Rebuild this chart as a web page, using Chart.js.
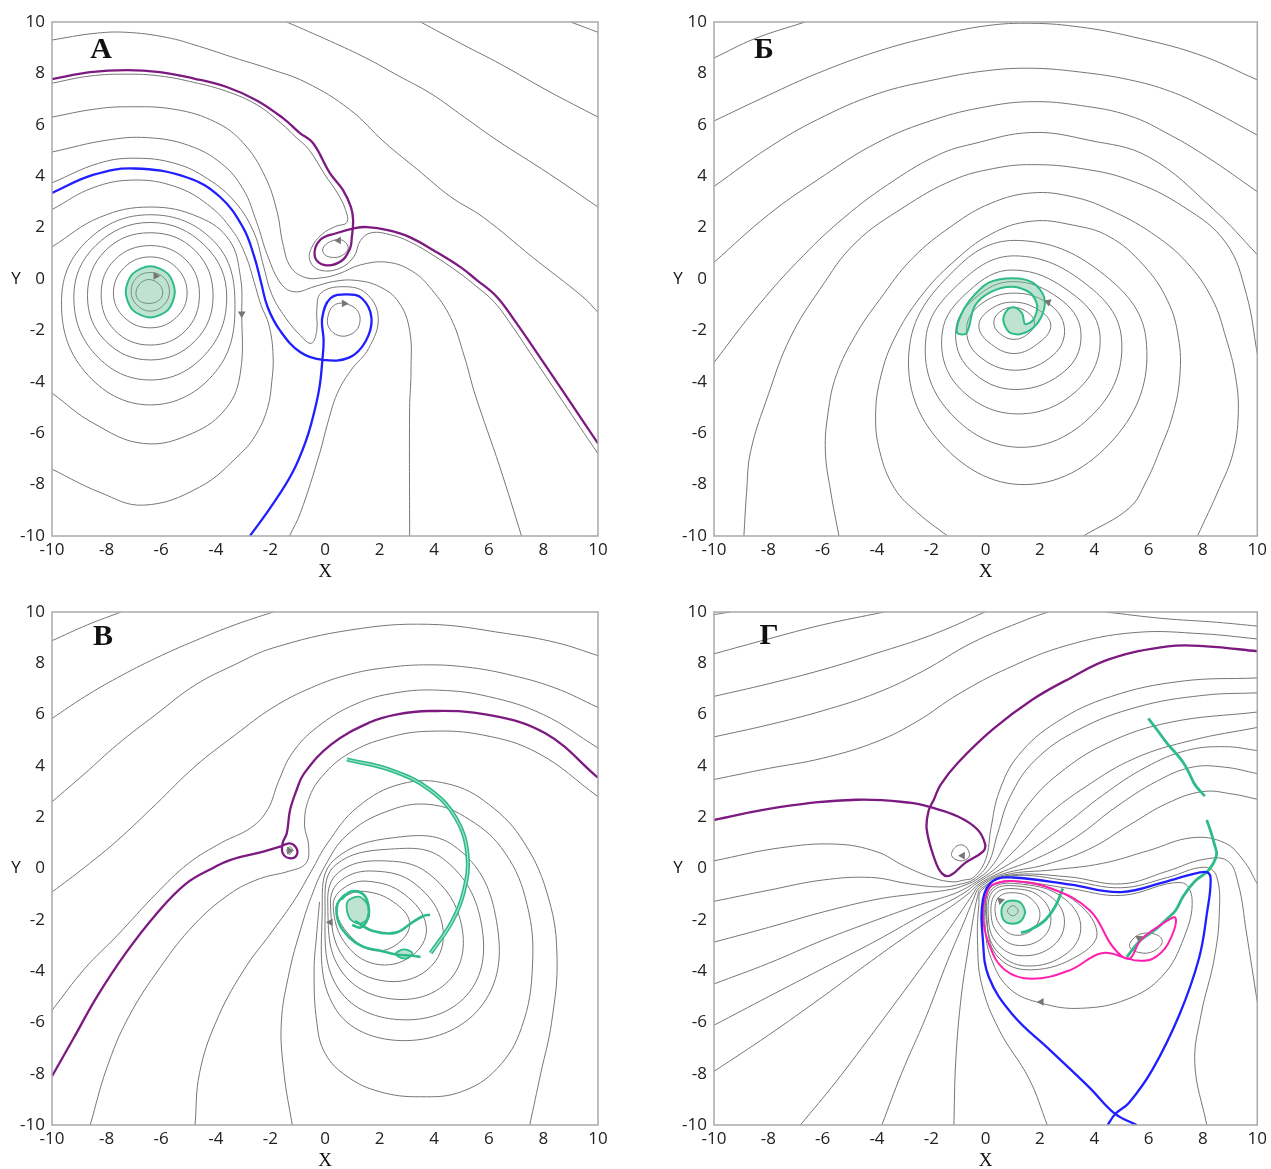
<!DOCTYPE html>
<html>
<head>
<meta charset="utf-8">
<script src="https://cdn.jsdelivr.net/npm/chart.js@4.4.1/dist/chart.umd.min.js"></script>
<style>
  body { margin: 0; background: #fff; width: 1271px; height: 1169px; overflow: hidden; position: relative; }
  .panel { position: absolute; }
</style>
</head>
<body>
<div class="panel" style="left:0;top:0"><canvas id="cA" width="640" height="590"></canvas></div>
<div class="panel" style="left:662px;top:0"><canvas id="cB" width="609" height="590"></canvas></div>
<div class="panel" style="left:0;top:590px"><canvas id="cV" width="640" height="579"></canvas></div>
<div class="panel" style="left:662px;top:590px"><canvas id="cG" width="609" height="579"></canvas></div>
<script>
// ── Axis ticks (same for all panels) ──
const tickValues = [-10, -8, -6, -4, -2, 0, 2, 4, 6, 8, 10];

// ── Panel А ──
const aPurple = [[-10,7.78],[-8.6,8.05],[-7.25,8.13],[-6.05,8.05],[-4.8,7.8],[-3.6,7.47],[-2.5,6.95],[-1.54,6.26],[-0.92,5.68],[-0.44,5.29],[0.18,4.12],[0.66,3.46],[0.95,2.8],[1.03,2.3],[0.98,1.6],[0.92,1.2],[0.6,0.7],[0.0,0.54],[-0.37,0.86],[-0.18,1.52],[0.44,1.79],[1.1,1.98],[1.54,2.02],[2.3,1.9],[3.1,1.63],[4.0,1.1],[4.95,0.47],[5.56,-0.04],[6.29,-0.69],[7.0,-1.7],[7.62,-2.65],[8.8,-4.5],[10,-6.4]];
const aBlue = [[-10,3.35],[-8.5,4.05],[-7.0,4.3],[-5.05,3.95],[-3.85,3.2],[-3.0,2.0],[-2.6,0.9],[-2.35,-0.1],[-2.1,-1.1],[-1.65,-2.0],[-0.9,-2.85],[-0.07,-3.15],[0.9,-3.05],[1.5,-2.4],[1.7,-1.5],[1.35,-0.75],[0.8,-0.6],[0.2,-0.75],[-0.1,-1.5],[-0.05,-2.4],[-0.1,-3.2],[-0.2,-4.2],[-0.4,-5.2],[-0.7,-6.3],[-1.2,-7.55],[-2.0,-8.9],[-2.75,-10]];
const aGreen = [[-5.5,-0.5],[-5.75,0.2],[-6.4,0.5],[-7.05,0.2],[-7.3,-0.5],[-7.05,-1.2],[-6.4,-1.5],[-5.75,-1.2],[-5.5,-0.5]];
const aGreenRings = [
  [[-5.7,-0.5],[-5.9,0.05],[-6.4,0.25],[-6.9,0.05],[-7.1,-0.5],[-6.9,-1.0],[-6.4,-1.25],[-5.9,-1.0],[-5.7,-0.5]],
  [[-5.95,-0.45],[-6.2,-0.1],[-6.6,-0.05],[-6.9,-0.4],[-6.85,-0.8],[-6.45,-0.95],[-6.05,-0.8],[-5.95,-0.45]]
];
const aGray = [
  [[-10,9.3],[-8.5,9.55],[-7.3,9.6],[-5.8,9.4],[-4.6,9.05],[-3.3,8.6],[-2.1,8.2],[-0.7,7.65],[0.9,6.6],[2.2,5.3],[3.4,4.25],[4.6,3.2],[5.8,2.4],[7.6,0.85],[9.45,-0.7],[10,-1.3]],
  [[-1.4,10],[0.2,9.25],[1.5,8.6],[2.7,7.9],[3.9,7.2],[5.1,6.3],[6.3,5.4],[8.2,4.1],[10,2.8]],
  [[3.5,10],[5.0,9.15],[6.45,8.35],[8.2,7.3],[10,6.3]],
  [[9.0,10],[10,9.6]],
  [[-10,7.62],[-8.6,7.9],[-7.25,7.97],[-6.05,7.9],[-4.8,7.65],[-3.6,7.3],[-2.5,6.78],[-1.6,6.05],[-1.05,5.5],[-0.6,5.05],[0.0,4.05],[0.45,3.35],[0.75,2.7],[0.8,2.2],[0.4,2.05],[-0.1,1.75],[-0.5,1.2],[-0.55,0.7],[-0.2,0.35],[0.5,0.4],[1.05,0.85],[1.3,1.5],[1.7,1.8],[2.4,1.72],[3.1,1.45],[4.0,0.9],[4.9,0.25],[5.5,-0.25],[6.2,-0.9],[6.9,-1.9],[7.5,-2.85],[8.7,-4.75],[10,-6.8]],
  [[-10,2.7],[-8.5,3.55],[-7,3.85],[-5.5,3.6],[-4.3,2.9],[-3.4,1.9],[-2.9,0.9],[-2.6,-0.1],[-2.35,-1.0],[-2.05,-1.8],[-1.9,-3.0],[-1.95,-4.0],[-2.1,-5.0],[-2.5,-6.0],[-3.1,-6.8],[-4.6,-8.1],[-6.65,-8.8],[-8.25,-8.3],[-10,-7.4]],
  [[-10,1.25],[-8.25,2.4],[-6.4,2.8],[-4.6,2.4],[-3.5,1.5],[-3.1,0.1],[-3.05,-1.3],[-3.1,-3.65],[-3.6,-5.0],[-4.85,-6.0],[-6.65,-6.4],[-8.5,-5.6],[-10,-4.44]],
  [[-10,6.3],[-8.5,6.6],[-7.3,6.7],[-5.5,6.6],[-4,6.1],[-3,5.3],[-2.2,4.0],[-1.75,2.6],[-1.55,1.4],[-1.25,0.45],[-0.7,0.05],[-0.1,0.05],[0.5,0.2],[1.3,0.55],[2.3,0.65],[3.2,0.3],[3.9,-0.4],[4.6,-1.5],[5.1,-3.0],[5.5,-4.5],[6.4,-7.3],[7.2,-10]],
  [[-10,4.94],[-8,5.4],[-6.5,5.5],[-5,5.2],[-3.8,4.5],[-3.0,3.5],[-2.5,2.2],[-2.1,0.9],[-1.6,-0.2],[-1.1,-0.5],[-0.4,-0.3],[0.3,-0.1],[1.1,-0.05],[2.0,-0.3],[2.7,-0.9],[3.1,-2.0],[3.15,-3.6],[3.1,-5],[3.1,-10]],
  [[-10,3.74],[-8.3,4.5],[-7,4.7],[-5.5,4.5],[-4.3,3.9],[-3.3,3.0],[-2.6,1.8],[-2.25,0.5],[-1.95,-0.6],[-1.45,-1.5],[-0.9,-2.2],[-0.5,-2.5],[-0.3,-2.0],[-0.3,-1.2],[-0.15,-0.55],[0.65,-0.3],[1.5,-0.55],[1.95,-1.5],[1.6,-2.7],[0.95,-3.55],[0.45,-4.45],[0.1,-5.6],[-0.2,-6.8],[-0.9,-9.1],[-1.3,-10]],
  [[-5.05,-0.55],[-5.45,0.45],[-6.4,0.86],[-7.35,0.45],[-7.75,-0.55],[-7.35,-1.5],[-6.4,-1.9],[-5.45,-1.5],[-5.05,-0.55]],
  [[-4.6,-0.6],[-5.1,0.75],[-6.4,1.3],[-7.7,0.75],[-8.2,-0.6],[-7.7,-2.0],[-6.4,-2.57],[-5.1,-2.0],[-4.6,-0.6]],
  [[-4.1,-0.65],[-4.75,1.1],[-6.4,1.8],[-8.05,1.1],[-8.7,-0.65],[-8.05,-2.4],[-6.4,-3.15],[-4.75,-2.4],[-4.1,-0.65]],
  [[-3.6,-0.7],[-4.4,1.3],[-6.4,2.2],[-8.4,1.3],[-9.2,-0.7],[-8.4,-2.95],[-6.4,-3.93],[-4.4,-2.95],[-3.6,-0.7]],
  [[-3.3,-0.8],[-4.1,1.5],[-6.4,2.5],[-8.7,1.5],[-9.65,-0.8],[-8.8,-3.6],[-6.4,-4.9],[-4.0,-3.6],[-3.3,-0.8]],
  [[-0.05,1.25],[0.3,1.5],[0.65,1.5],[0.85,1.2],[0.6,0.9],[0.2,0.85],[-0.05,1.0],[-0.05,1.25]],
  [[0.1,-1.5],[0.3,-1.05],[0.7,-0.95],[1.2,-1.25],[1.25,-1.8],[0.95,-2.15],[0.5,-2.2],[0.15,-1.9],[0.1,-1.5]]
];
const aArrows = [[-6.2,0.12],[-3.05,-1.35],[0.5,1.5],[0.7,-0.95]];
const aArrowAngles = [90, 180, 270, 90];

// ── Panel Б ──
const bGreen = [[-1.05,-2.1],[-0.95,-1.5],[-0.6,-0.85],[0.1,-0.15],[1.0,0.03],[1.75,-0.15],[2.15,-0.7],[2.1,-1.35],[1.75,-1.9],[1.25,-2.15],[0.85,-2.05],[0.65,-1.6],[0.8,-1.2],[1.05,-1.1],[1.35,-1.35],[1.45,-1.75],[1.75,-1.6],[1.9,-1.05],[1.65,-0.55],[1.0,-0.3],[0.2,-0.5],[-0.4,-1.05],[-0.7,-2.1],[-1.05,-2.1]];
const bGray = [
  [[-10,8.6],[-8.5,9.35],[-6.65,10]],
  [[-10,6.15],[-8,7.15],[-6.2,8.0],[-4,8.85],[-1.9,9.45],[0,9.85],[1.7,9.95],[3.5,9.8],[5.3,9.45],[7.8,8.75],[10,7.75]],
  [[-10,3.6],[-8,5.1],[-6.2,6.2],[-4,7.2],[-1.9,7.75],[0,8.1],[1.7,8.2],[3.5,8.05],[5.3,7.75],[6.8,7.3],[8.15,6.65],[10,5.6]],
  [[-10,0.65],[-8,2.5],[-6.2,3.85],[-4,5.3],[-1.9,6.2],[0,6.7],[1.7,6.9],[3.5,6.75],[5.3,6.35],[6.8,5.6],[8.15,4.75],[10,3.4]],
  [[-10,-3.25],[-8.5,-1.2],[-6.95,0.65],[-5.2,2.4],[-3.35,3.85],[-1.7,4.85],[-0.5,5.25],[1.7,5.7],[3.8,5.4],[6.0,4.75],[8.4,2.7],[10,0.95]],
  [[-8.9,-10],[-8.8,-8.3],[-8.65,-6.7],[-8.0,-4.5],[-7.2,-2.3],[-6.1,-0.4],[-4.8,1.4],[-3.0,2.8],[-1.2,3.85],[0.3,4.3],[1.7,4.45],[3.5,4.3],[5.3,3.85],[7.3,2.8],[8.85,1.4],[9.6,-0.6],[10,-2.9]],
  [[-5.4,-10],[-5.7,-8.3],[-5.9,-6.7],[-5.8,-5.2],[-5.5,-3.75],[-4.8,-2.2],[-3.9,-0.8],[-2.7,0.8],[-1.2,2.1],[0.2,2.95],[1.7,3.35],[3.2,3.2],[4.55,2.7],[6.1,1.8],[7.4,0.65],[8.35,-0.8],[8.85,-2.3],[9.2,-3.8],[9.3,-5.25],[9.1,-6.8],[8.6,-8.15],[7.8,-10]],
  [[-1.4,-10],[-2.5,-9.1],[-3.35,-8.15],[-3.9,-6.7],[-4.05,-5.25],[-3.85,-3.75],[-3.35,-2.3],[-2.4,-0.7],[-1.2,0.65],[0.2,1.75],[1.7,2.25],[3.2,2.1],[4.55,1.65],[5.8,0.55],[6.7,-0.85],[7.1,-2.3],[7.15,-3.75],[6.9,-5.25],[6.4,-6.7],[5.9,-7.9],[5.3,-8.9],[3.6,-10]],
  [[1.2,1.5],[4.2,0.3],[5.9,-2.3],[4.9,-6.0],[1.5,-8.0],[-1.8,-6.2],[-2.8,-2.6],[-1.0,0.5],[1.2,1.5]],
  [[1.1,0.9],[3.7,-0.2],[5.0,-2.3],[4.1,-5.1],[1.3,-6.55],[-1.4,-5.1],[-2.2,-2.3],[-0.9,-0.1],[1.1,0.9]],
  [[1.0,0.35],[3.1,-0.5],[4.2,-2.1],[3.5,-4.2],[1.2,-5.25],[-1.0,-4.2],[-1.6,-2.1],[-0.6,-0.45],[1.0,0.35]],
  [[1.0,-0.1],[2.7,-0.75],[3.5,-2.0],[3.0,-3.5],[1.1,-4.3],[-0.6,-3.5],[-1.1,-2.0],[-0.4,-0.75],[1.0,-0.1]],
  [[1.0,-0.55],[2.3,-0.95],[2.9,-1.9],[2.5,-2.95],[1.1,-3.55],[-0.3,-2.95],[-0.7,-1.9],[-0.2,-1.0],[1.0,-0.55]],
  [[1.0,-0.9],[1.95,-1.2],[2.4,-1.8],[2.0,-2.45],[1.05,-2.9],[0.1,-2.45],[-0.25,-1.8],[0.15,-1.2],[1.0,-0.9]],
  [[1.0,-1.1],[1.55,-1.3],[1.8,-1.7],[1.6,-2.1],[1.05,-2.35],[0.5,-2.1],[0.3,-1.7],[0.5,-1.3],[1.0,-1.1]]
];
const bArrows = [[2.3,-0.9]];
const bArrowAngles = [170];

// ── Panel В ──
const vPurple = [[-10,-8.1],[-9.2,-6.6],[-8.33,-4.96],[-7.3,-3.3],[-6.2,-1.8],[-5.1,-0.6],[-4.05,0.05],[-3.48,0.33],[-2.26,0.66],[-1.65,0.85],[-1.3,0.98],[-1.05,0.8],[-1.05,0.5],[-1.3,0.4],[-1.55,0.6],[-1.55,1.0],[-1.4,1.37],[-1.28,2.28],[-1.04,3.06],[-0.77,3.7],[0.23,4.84],[1.65,5.7],[2.6,6.0],[3.8,6.14],[5.93,6.0],[8.07,5.27],[10,3.54]];
const vGreenArc = [[0.8,4.25],[2.37,3.85],[3.8,3.1],[4.8,1.96],[5.22,0.52],[5.08,-0.92],[4.65,-2.08],[3.87,-3.3]];
const vGreenLines = [
  [[0.75,-1.0],[0.45,-1.4],[0.5,-2.1],[0.9,-2.7],[1.4,-3.05],[2.0,-3.2],[2.6,-3.35],[3.2,-3.4],[3.5,-3.45]],
  [[1.1,-2.05],[1.8,-2.45],[2.6,-2.5],[3.2,-2.1],[3.6,-1.85],[3.85,-1.8]],
  [[0.6,-1.2],[0.95,-0.9],[1.4,-1.0],[1.6,-1.5],[1.55,-2.0],[1.3,-2.3],[1.0,-2.2]]
];
const vGreenBlobs = [
  [[0.85,-1.25],[1.25,-1.1],[1.55,-1.4],[1.6,-1.9],[1.3,-2.15],[0.95,-2.0],[0.8,-1.6],[0.85,-1.25]],
  [[2.6,-3.3],[2.9,-3.15],[3.2,-3.3],[3.0,-3.5],[2.7,-3.45],[2.6,-3.3]]
];
const vGray = [
  [[-10,8.88],[-8.7,9.5],[-7.47,10]],
  [[-10,5.85],[-8.8,6.7],[-7.6,7.44],[-6.2,8.2],[-4.76,8.88],[-3.3,9.5],[-1.9,10]],
  [[-10,2.6],[-8.8,3.7],[-7.6,4.84],[-6.2,6.0],[-4.76,7.15],[-3.3,7.95],[-1.9,8.6],[0.94,9.3],[3.8,9.52],[6.65,9.16],[8.5,8.8],[10,8.3]],
  [[-10,-0.92],[-8.8,0.05],[-7.6,1.1],[-6.2,2.5],[-4.76,3.98],[-3.3,5.2],[-1.9,6.28],[-0.5,7.05],[0.94,7.58],[2.4,7.85],[3.8,7.94],[5.2,7.85],[6.65,7.58],[8.4,7.05],[10,6.28]],
  [[-10,-5.53],[-8.8,-3.9],[-7.6,-2.6],[-6.2,-1.0],[-5.0,0.2],[-3.8,1.0],[-2.7,1.6],[-2.1,2.3],[-1.7,3.4],[-1.2,4.5],[-0.3,5.5],[1.1,6.4],[2.6,6.85],[4.2,6.95],[6.0,6.7],[8.0,6.0],[10,4.7]],
  [[-8.6,-10],[-8.0,-7.8],[-7.2,-5.8],[-6.0,-3.8],[-4.8,-2.2],[-3.5,-1.0],[-2.4,-0.4],[-1.3,-0.1],[-0.7,0.2],[-0.6,0.9],[-0.75,1.7],[-0.6,2.7],[-0.1,3.6],[0.9,4.5],[2.3,5.1],[3.8,5.35],[5.8,5.2],[7.8,4.5],[10,2.8]],
  [[-4.76,-10],[-4.6,-8],[-4.0,-6],[-3.0,-4.0],[-1.9,-2.4],[-1.1,-1.2],[-0.5,-0.1],[0.1,1.0],[1.2,2.4],[2.8,3.3],[4.5,3.3],[6.0,2.5],[7.3,1.0],[8.2,-1.2],[8.5,-3.5],[8.3,-6.0],[7.9,-8.0],[7.5,-10]],
  [[-1.2,-10],[-1.5,-8],[-1.6,-6],[-1.3,-4],[-0.9,-2.4],[-0.5,-1.1],[0.0,0.1],[0.8,1.3],[2.2,2.2],[3.8,2.5],[5.3,1.9],[6.6,0.6],[7.4,-1.4],[7.6,-3.8],[7.2,-6.2],[6.3,-7.8],[5.0,-8.7],[3.5,-8.9],[2.0,-8.7],[0.8,-8.1],[0.0,-7.2],[-0.3,-6.0],[-0.4,-4.0],[-0.3,-2.5],[-0.2,-1.3]],
  [[0.4,-1.55],[0.8,-1.05],[1.5,-0.9],[2.5,-1.3],[3.1,-2.1],[2.7,-2.9],[1.8,-3.2],[0.9,-2.6],[0.4,-1.55]],
  [[0.3,-1.45],[0.7,-0.75],[1.6,-0.5],[2.9,-1.0],[3.7,-2.2],[3.3,-3.3],[2.0,-3.75],[0.8,-3.0],[0.3,-1.45]],
  [[0.2,-1.35],[0.6,-0.45],[1.8,-0.1],[3.3,-0.6],[4.3,-2.2],[3.9,-3.8],[2.3,-4.4],[0.7,-3.5],[0.2,-1.35]],
  [[0.1,-1.3],[0.5,-0.15],[2.0,0.3],[3.8,-0.2],[5.0,-2.2],[4.6,-4.3],[2.6,-5.1],[0.6,-4.0],[0.1,-1.3]],
  [[0.0,-1.25],[0.4,0.15],[2.3,0.75],[4.3,0.4],[5.7,-2.0],[5.3,-4.8],[2.9,-5.9],[0.5,-4.7],[0.0,-1.25]],
  [[-0.1,-1.2],[0.35,0.35],[2.5,1.2],[4.7,0.9],[6.2,-1.6],[5.9,-5.1],[3.2,-6.7],[0.4,-5.5],[-0.1,-1.2]],
  [[-1.2,0.75],[-1.3,0.85],[-1.4,0.7],[-1.3,0.55],[-1.2,0.75]]
];
const vArrows = [[0.2,-2.1],[-1.3,0.7]];
const vArrowAngles = [30, 90];

// ── Panel Г ──
const gPurple = [[-10,1.89],[-7.6,2.39],[-4.75,2.68],[-2.74,2.56],[-2.03,2.39],[-1.02,2.03],[-0.31,1.53],[-0.02,0.95],[-0.1,0.66],[-0.74,0.23],[-1.31,-0.27],[-1.6,-0.2],[-1.88,0.37],[-2.17,1.53],[-2.1,2.25],[-1.9,2.7],[-1.66,3.26],[-1.02,4.12],[0.26,5.42],[1.7,6.57],[3.13,7.43],[4.56,8.16],[6.71,8.66],[8.14,8.66],[10,8.47]];
const gBlue = [[4.49,-10],[4.77,-9.57],[5.28,-9.13],[6.14,-7.84],[7.14,-5.68],[7.85,-3.52],[8.14,-1.79],[8.28,-0.35],[8.07,-0.13],[6.71,-0.49],[4.99,-0.92],[3.13,-0.63],[0.98,-0.35],[0.26,-0.49],[-0.1,-1.21],[-0.1,-2.8],[0.12,-4.24],[0.98,-5.68],[2.41,-7.12],[3.84,-8.56],[4.77,-9.57],[5.56,-10]];
const gMagenta = [[0.26,-0.63],[0.98,-0.49],[2.41,-0.78],[3.84,-1.64],[4.7,-3.08],[5.28,-3.52],[5.7,-2.8],[6.42,-2.22],[6.99,-1.93],[6.71,-2.94],[6.14,-3.52],[5.56,-3.59],[5.28,-3.52],[4.27,-3.3],[3.13,-3.95],[1.7,-4.3],[0.7,-3.95],[0.12,-2.94],[-0.1,-1.79],[0.05,-0.92],[0.26,-0.63]];
const gGreenLines = [
  [[5.99,5.85],[6.35,5.35],[6.71,4.84],[7.0,4.5],[7.28,4.12],[7.5,3.7],[7.71,3.26],[8.07,2.82]],
  [[8.14,1.89],[8.3,1.4],[8.42,0.95],[8.5,0.52],[8.21,-0.06],[7.71,-0.49],[7.28,-1.07],[6.99,-1.64],[6.71,-1.93],[6.28,-2.36],[5.7,-2.8],[5.2,-3.45]],
  [[2.84,-0.78],[2.55,-1.5],[2.13,-2.07],[1.55,-2.43],[1.3,-2.5]]
];
const gGreenBlob = [[1.45,-1.7],[1.3,-1.35],[1.0,-1.25],[0.7,-1.35],[0.58,-1.7],[0.7,-2.05],[1.0,-2.15],[1.3,-2.05],[1.45,-1.7]];
const gGreenRing = [[1.2,-1.65],[1.0,-1.45],[0.8,-1.65],[1.0,-1.85],[1.2,-1.65]];
const gGray = [
  [[-10,9.9],[-9.4,10]],
  [[-10,8.37],[-8,8.95],[-6,9.5],[-3.74,10]],
  [[-10,6.71],[-8,7.2],[-6,7.75],[-4,8.4],[-2,9.1],[-0.02,10]],
  [[-10,5.13],[-8,5.6],[-6,6.15],[-4,6.85],[-2.3,7.7],[-0.5,8.8],[1.5,9.7],[2.3,10]],
  [[4.42,10],[6.5,9.75],[8.5,9.6],[10,9.45]],
  [[-10,3.47],[-8,3.9],[-6,4.3],[-4,4.95],[-2.5,5.75],[-1,6.8],[0.8,7.8],[3,8.7],[5.5,9.2],[8,9.15],[10,8.95]],
  [[-10,0.3],[-7.6,0.8],[-5.5,0.95],[-4,0.65],[-3.0,0.1],[-1.9,-0.38],[-1.2,-0.52],[-0.8,-0.45],[-0.45,-0.35],[0.0,0.35],[0.2,1.6],[0.5,3.0],[1.2,4.4],[2.6,5.7],[4.6,6.7],[7.2,7.3],[10,7.43]],
  [[-10,-1.28],[-8,-0.85],[-6,-0.45],[-4.2,-0.35],[-2.8,-0.6],[-1.6,-0.72],[-0.9,-0.6],[-0.42,-0.41],[0.1,0.2],[0.45,1.4],[0.9,2.8],[1.8,4.2],[3.4,5.4],[5.6,6.3],[8,6.75],[10,6.85]],
  [[-10,-2.87],[-8,-2.3],[-6,-1.7],[-4,-1.2],[-2.5,-0.98],[-1.3,-0.82],[-0.8,-0.66],[-0.38,-0.46],[0.2,0.05],[0.8,1.1],[1.5,2.4],[2.7,3.7],[4.5,4.9],[6.8,5.7],[10,6.1]],
  [[-10,-4.5],[-8,-3.7],[-6,-2.8],[-4,-2.0],[-2.4,-1.4],[-1.2,-1.0],[-0.7,-0.75],[-0.35,-0.52],[0.3,-0.05],[1.15,0.8],[2.2,2.0],[3.7,3.2],[5.5,4.3],[7.6,5.0],[10,5.5]],
  [[-10,-6.11],[-8,-5.0],[-6,-3.9],[-4,-2.8],[-2.4,-1.85],[-1.2,-1.2],[-0.65,-0.85],[-0.32,-0.57],[0.4,-0.12],[1.5,0.6],[2.8,1.6],[4.3,2.85],[5.9,3.95],[7.4,4.6],[8.8,4.75],[10,4.6]],
  [[-10,-7.91],[-8,-6.5],[-6,-5.0],[-4.2,-3.6],[-2.6,-2.4],[-1.3,-1.5],[-0.6,-0.95],[-0.28,-0.63],[0.5,-0.18],[1.9,0.4],[3.3,1.2],[4.8,2.4],[6.3,3.4],[7.6,3.95],[8.8,3.95],[10,3.7]],
  [[-6.82,-10],[-5.5,-8.3],[-4,-6.2],[-2.6,-4.2],[-1.5,-2.6],[-0.85,-1.6],[-0.5,-1.05],[-0.25,-0.68],[0.6,-0.22],[2.2,0.15],[3.8,0.75],[5.3,1.7],[6.7,2.55],[8.0,3.0],[9.1,2.9],[10,2.7]],
  [[-3.82,-10],[-3.1,-8],[-2.2,-5.8],[-1.4,-3.6],[-0.8,-2.1],[-0.45,-1.2],[-0.22,-0.74],[0.7,-0.25],[2.5,-0.05],[4.3,0.2],[6.0,0.7],[7.6,1.2],[8.8,1.0],[9.5,0.3],[10,-0.6]],
  [[-1.17,-10],[-1.1,-7.5],[-0.9,-5.0],[-0.65,-3.2],[-0.45,-1.9],[-0.3,-1.1],[-0.18,-0.79],[0.8,-0.27],[3.0,-0.32],[5.0,-0.6],[6.7,-0.1],[8.0,0.35],[8.9,0.3],[9.3,-0.6],[9.6,-2.5],[10,-5.2]],
  [[2.27,-10],[1.6,-8.2],[0.5,-6.3],[-0.15,-4.5],[-0.3,-2.8],[-0.25,-1.4],[-0.15,-0.85],[0.9,-0.29],[3.1,-0.48],[5.0,-0.75],[6.7,-0.35],[8.05,0.05],[8.5,-0.3],[8.6,-1.8],[8.4,-3.6],[7.95,-5.6],[7.7,-7.6],[8.14,-10]],
  [[0.5,-1.1],[1.1,-0.95],[1.7,-1.2],[2.0,-1.8],[1.7,-2.4],[1.1,-2.6],[0.6,-2.3],[0.35,-1.7],[0.5,-1.1]],
  [[0.4,-0.95],[1.2,-0.8],[2.0,-1.1],[2.4,-1.9],[2.1,-2.7],[1.2,-3.0],[0.5,-2.6],[0.2,-1.8],[0.4,-0.95]],
  [[0.3,-0.85],[1.3,-0.7],[2.4,-1.1],[2.9,-2.0],[2.5,-3.0],[1.3,-3.4],[0.4,-2.9],[0.1,-1.9],[0.3,-0.85]],
  [[0.25,-0.78],[1.4,-0.62],[2.8,-1.1],[3.5,-2.2],[3.0,-3.3],[1.5,-3.8],[0.4,-3.2],[0.05,-2.0],[0.25,-0.78]],
  [[0.2,-0.72],[1.6,-0.58],[3.2,-1.2],[4.1,-2.5],[3.4,-3.4],[1.7,-3.95],[0.5,-3.5],[0.05,-2.2],[0.2,-0.72]],
  [[0.05,-1.0],[-0.02,-2.2],[0.2,-3.5],[0.9,-4.7],[2.05,-5.25],[3.5,-5.45],[5.2,-5.1],[6.5,-4.2],[7.3,-2.7],[7.6,-1.2],[7.2,-0.55],[5.0,-1.05],[3.1,-0.78],[1.0,-0.48],[0.35,-0.6],[0.05,-1.0]],
  [[6.5,-2.8],[6.2,-2.55],[5.6,-2.6],[5.3,-3.05],[5.8,-3.3],[6.3,-3.15],[6.5,-2.8]],
  [[-0.6,0.6],[-0.8,0.9],[-1.1,0.85],[-1.25,0.5],[-0.95,0.3],[-0.65,0.4],[-0.6,0.6]]
];
const gArrows = [[-0.85,0.5],[0.55,-1.25],[5.65,-2.72],[2.05,-5.2]];
const gArrowAngles = [30, 315, 300, 270];

// ── Styles ──
const GRAY = '#767676';
const PURPLE = '#7d1a80';
const BLUE = '#1f1fff';
const MAGENTA = '#ff1fae';
const GREEN = '#2dbb87';
const GREEN_LIGHT = '#a6e3c8';
const GREEN_FILL = 'rgba(110,196,152,0.45)';
const TICK_FONT = { family: "'Open Sans', sans-serif", size: 17 };

// a line whose last point repeats the first one is drawn as a smooth closed loop
function isClosed(arr) {
  const a = arr[0], b = arr[arr.length - 1];
  return arr.length > 3 && a[0] === b[0] && a[1] === b[1];
}

function pts(arr) {
  const src = isClosed(arr) ? arr.slice(0, -1) : arr;
  return src.map(p => ({ x: p[0], y: p[1] }));
}

function lineDs(arr, color, width, order) {
  return { data: pts(arr), closedLoop: isClosed(arr), showLine: true, pointRadius: 0, pointHoverRadius: 0,
    borderColor: color, borderWidth: width, tension: 0.4, fill: false, order };
}

function fillDs(arr, border, width) {
  return { data: pts(arr), closedLoop: isClosed(arr), showLine: true, pointRadius: 0, pointHoverRadius: 0,
    borderColor: border, borderWidth: width, backgroundColor: GREEN_FILL,
    tension: 0.3, fill: 'shape', order: 3 };
}

function arrowDs(arr, angles) {
  return { data: pts(arr), showLine: false, pointStyle: 'triangle', pointRadius: 4.5,
    rotation: c => angles[c.dataIndex] || 0, backgroundColor: GRAY, borderColor: GRAY,
    borderWidth: 0, order: 0 };
}

// frame, panel letter and axis names
const framePlugin = {
  id: 'frame',
  afterDraw(chart, args, o) {
    const { ctx, chartArea: a } = chart;
    ctx.save();
    ctx.strokeStyle = '#a9a9a9';
    ctx.lineWidth = 1.5;
    ctx.strokeRect(a.left, a.top, a.right - a.left, a.bottom - a.top);
    ctx.fillStyle = '#111';
    ctx.textAlign = 'center';
    ctx.textBaseline = 'middle';
    ctx.font = 'bold 30px "Liberation Serif", serif';
    ctx.fillText(o.letter, a.left + o.lx, a.top + o.ly);
    ctx.font = '19px "Liberation Serif", serif';
    ctx.fillText('X', (a.left + a.right) / 2, a.bottom + 36);
    ctx.font = "17px 'Open Sans', sans-serif";
    ctx.fillText('Y', a.left - 36, chart.scales.y.getPixelForValue(0));
    ctx.restore();
  }
};

function makePanel(id, datasets, g) {
  const axis = (fit) => ({
    type: 'linear', min: -10, max: 10,
    afterBuildTicks: s => { s.ticks = tickValues.map(v => ({ value: v })); },
    ticks: { font: TICK_FONT, color: '#222', padding: fit.pad, autoSkip: false, maxRotation: 0 },
    grid: { display: false, drawTicks: false },
    border: { display: false },
    afterFit: fit.fn,
  });
  const chart = new Chart(document.getElementById(id), {
    type: 'scatter',
    data: { datasets },
    options: {
      responsive: false, animation: false, events: [],
      layout: { padding: { left: 0, top: g.top, right: g.right, bottom: 0 } },
      plugins: { legend: { display: false }, tooltip: { enabled: false }, frame: g.frame },
      scales: {
        x: axis({ pad: 4, fn: s => { s.height = g.xh; } }),
        y: axis({ pad: 7, fn: s => { s.width = 52; } }),
      },
    },
    plugins: [framePlugin],
  });
  // close the loops the same way the radar chart does
  chart.data.datasets.forEach((d, i) => {
    if (d.closedLoop) {
      const line = chart.getDatasetMeta(i).dataset;
      line._loop = true;
      line._fullLoop = true;
    }
  });
  chart.update('none');
  return chart;
}

// ── Build datasets ──
const dsA = [
  ...aGray.map(l => lineDs(l, GRAY, 1, 5)),
  fillDs(aGreen, GREEN, 2),
  ...aGreenRings.map(l => lineDs(l, '#6f8f80', 1, 2)),
  lineDs(aPurple, PURPLE, 2.3, 1),
  lineDs(aBlue, BLUE, 2.3, 1),
  arrowDs(aArrows, aArrowAngles),
];

const dsB = [
  ...bGray.map(l => lineDs(l, GRAY, 1, 5)),
  fillDs(bGreen, GREEN, 2),
  arrowDs(bArrows, bArrowAngles),
];

// the long green arc of В is a double line: a wide green stroke with a light core
const dsV = [
  ...vGray.map(l => lineDs(l, GRAY, 1, 5)),
  lineDs(vPurple, PURPLE, 2.3, 1),
  ...vGreenBlobs.map(l => fillDs(l, GREEN, 1.8)),
  lineDs(vGreenArc, GREEN_LIGHT, 1.2, 0),
  lineDs(vGreenArc, GREEN, 4.2, 1),
  ...vGreenLines.map(l => lineDs(l, GREEN, 2.6, 1)),
  arrowDs(vArrows, vArrowAngles),
];

const dsG = [
  ...gGray.map(l => lineDs(l, GRAY, 1, 5)),
  lineDs(gPurple, PURPLE, 2.3, 1),
  lineDs(gBlue, BLUE, 2.3, 1),
  lineDs(gMagenta, MAGENTA, 2, 1),
  fillDs(gGreenBlob, GREEN, 2),
  lineDs(gGreenRing, '#6f8f80', 1, 2),
  ...gGreenLines.map(l => lineDs(l, GREEN, 2.8, 1)),
  arrowDs(gArrows, gArrowAngles),
];

makePanel('cA', dsA, { top: 22, right: 42, xh: 54, frame: { letter: 'А', lx: 49, ly: 28 } });
makePanel('cB', dsB, { top: 22, right: 13, xh: 54, frame: { letter: 'Б', lx: 50, ly: 28 } });
makePanel('cV', dsV, { top: 22, right: 42, xh: 44, frame: { letter: 'В', lx: 51, ly: 25 } });
makePanel('cG', dsG, { top: 22, right: 13, xh: 44, frame: { letter: 'Г', lx: 55, ly: 24 } });
</script>
</body>
</html>
